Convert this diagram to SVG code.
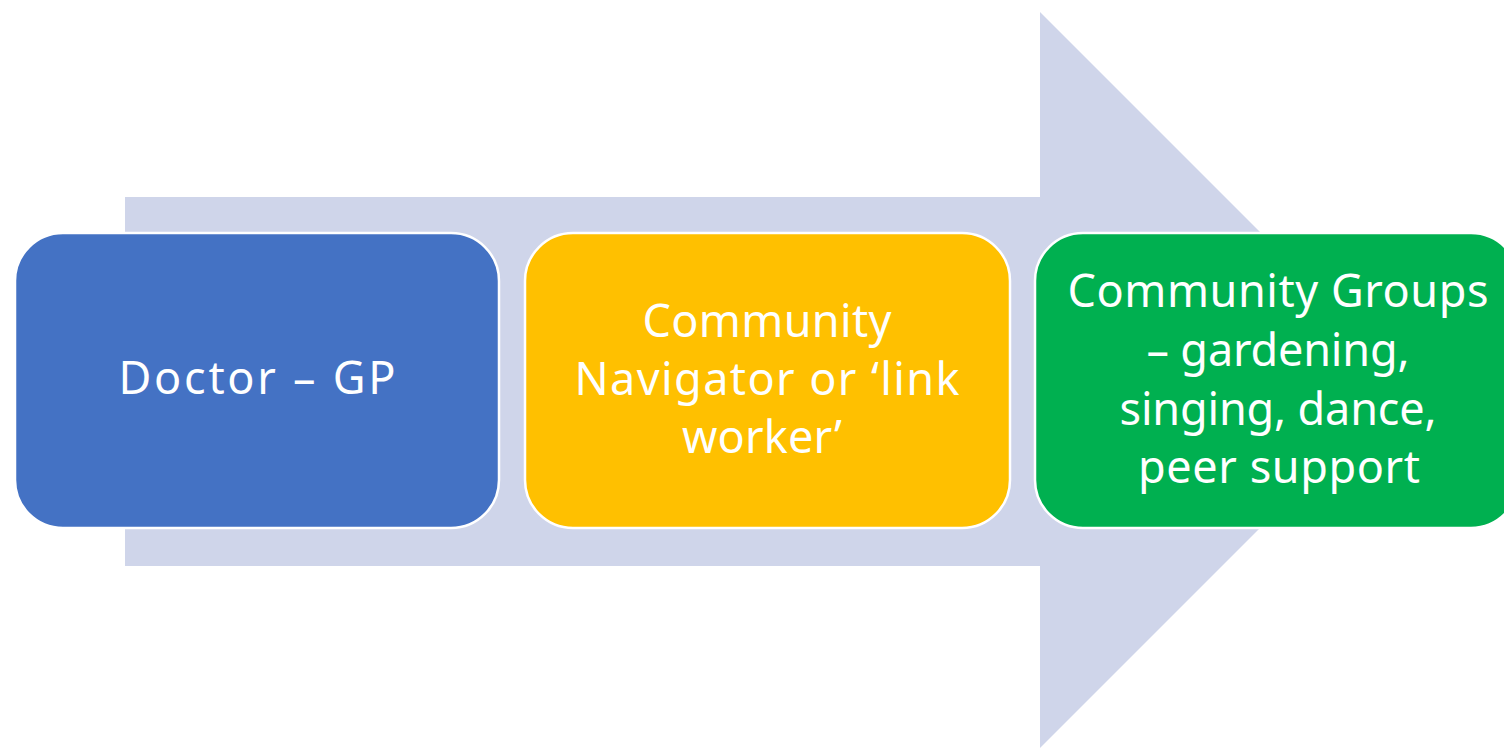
<svg xmlns="http://www.w3.org/2000/svg" width="1504" height="749" viewBox="0 0 1504 749">
<style>
.box{stroke:#ffffff;stroke-width:2.5}
.t{font-family:"Noto Sans","Noto Sans CJK JP",sans-serif;font-size:45px;fill:#ffffff;text-anchor:middle}
</style>
<rect width="1504" height="749" fill="#ffffff"/>
<g id="connectors">
<polygon points="125,197 1040,197 1040,12 1408,380 1040,748 1040,566 125,566" fill="#CFD5EA"/>
</g>
<g id="node-doctor">
<rect class="box" x="15" y="233" width="484" height="295" rx="48" fill="#4472C4"/>
<text class="t" x="257" y="394" textLength="277" lengthAdjust="spacing">Doctor – GP</text>
</g>
<g id="node-navigator">
<rect class="box" x="525" y="233" width="485" height="295" rx="48" fill="#FFC000"/>
<text class="t" x="767" y="337" textLength="249" lengthAdjust="spacing">Community</text>
<text class="t" x="767" y="395" textLength="385" lengthAdjust="spacing">Navigator or ‘link</text>
<text class="t" x="762" y="453" textLength="160" lengthAdjust="spacing">worker’</text>
</g>
<g id="node-groups">
<rect class="box" x="1035" y="233" width="484" height="295" rx="48" fill="#00B050"/>
<text class="t" x="1278" y="307" textLength="421" lengthAdjust="spacing">Community Groups</text>
<text class="t" x="1278" y="366" textLength="263" lengthAdjust="spacing">– gardening,</text>
<text class="t" x="1278" y="425" textLength="317" lengthAdjust="spacing">singing, dance,</text>
<text class="t" x="1279" y="483" textLength="282" lengthAdjust="spacing">peer support</text>
</g>
</svg>
